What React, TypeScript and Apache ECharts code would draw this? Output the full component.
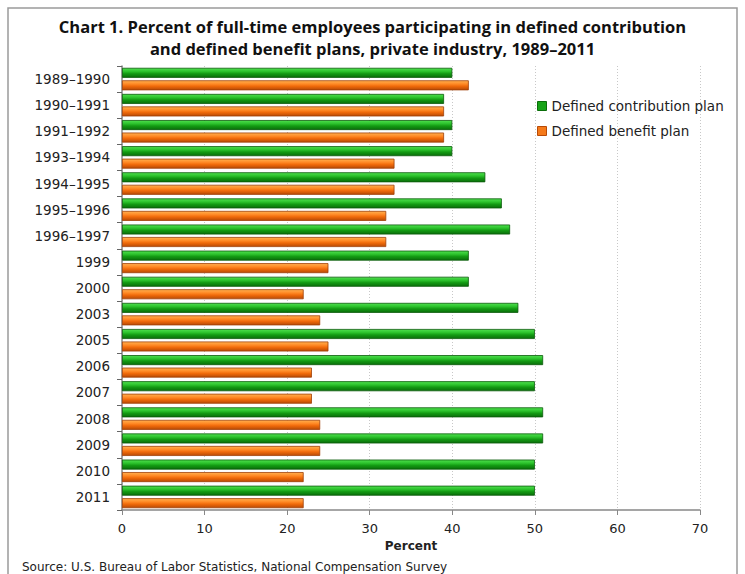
import React, { useEffect, useRef } from "react";
import * as echarts from "echarts";

const categories = [
  "1989–1990", "1990–1991", "1991–1992", "1993–1994", "1994–1995", "1995–1996",
  "1996–1997", "1999", "2000", "2003", "2005", "2006", "2007", "2008", "2009", "2010", "2011",
];
const definedContribution = [40, 39, 40, 40, 44, 46, 47, 42, 42, 48, 50, 51, 50, 51, 51, 50, 50];
const definedBenefit = [42, 39, 39, 33, 33, 32, 32, 25, 22, 24, 25, 23, 23, 24, 24, 22, 22];
const xTicks = { min: 0, max: 70, interval: 10 };

const TITLE_FONT = "'Open Sans', sans-serif";
const FONT = "'DejaVu Sans', sans-serif";

export default function App() {
  const ref = useRef<HTMLDivElement>(null);
  useEffect(() => {
    if (!ref.current) return;
    const chart = echarts.init(ref.current, undefined, { renderer: "svg" });
    const green = new echarts.graphic.LinearGradient(0, 0, 0, 1, [
      { offset: 0, color: "#4fe04f" },
      { offset: 0.35, color: "#2cc22c" },
      { offset: 0.6, color: "#139a13" },
      { offset: 1, color: "#0a6e0a" },
    ]);
    const orange = new echarts.graphic.LinearGradient(0, 0, 0, 1, [
      { offset: 0, color: "#ffb050" },
      { offset: 0.35, color: "#ff8a26" },
      { offset: 0.6, color: "#f06a0a" },
      { offset: 1, color: "#b84a06" },
    ]);
    chart.setOption({
      animation: false,
      backgroundColor: "#ffffff",
      textStyle: { fontFamily: FONT },
      title: {
        text: "Chart 1. Percent of full-time employees participating in defined contribution\nand defined benefit plans, private industry, 1989–2011",
        left: "center",
        top: 10,
        textStyle: { fontFamily: TITLE_FONT, fontSize: 16.5, fontWeight: "bold", color: "#111", lineHeight: 22 },
      },
      legend: {
        orient: "vertical",
        left: 532,
        top: 94,
        icon: "rect",
        itemWidth: 9,
        itemHeight: 9,
        itemGap: 11,
        textStyle: { fontFamily: FONT, fontSize: 13.5, color: "#222" },
        data: [
          { name: "Defined contribution plan", itemStyle: { color: "#17a317", borderColor: "#0a6e0a", borderWidth: 1 } },
          { name: "Defined benefit plan", itemStyle: { color: "#f57a1a", borderColor: "#b84a06", borderWidth: 1 } },
        ],
      },
      grid: { left: 122, right: 45, top: 66, bottom: 64 },
      xAxis: {
        type: "value",
        min: xTicks.min,
        max: xTicks.max,
        interval: xTicks.interval,
        name: "Percent",
        nameLocation: "middle",
        nameGap: 29,
        nameTextStyle: { fontFamily: FONT, fontSize: 12, fontWeight: "bold", color: "#222" },
        axisLine: { show: true, lineStyle: { color: "#888", width: 1.5 } },
        axisTick: { show: true, length: 5, lineStyle: { color: "#888" } },
        axisLabel: { fontFamily: FONT, fontSize: 13, color: "#222", margin: 12 },
        splitLine: { show: true, lineStyle: { color: "#c8c8c8", type: [1, 2] } },
      },
      yAxis: {
        type: "category",
        data: categories,
        inverse: true,
        axisLine: { show: true, lineStyle: { color: "#888", width: 1.5 } },
        axisTick: { show: true, length: 5, lineStyle: { color: "#666" } },
        axisLabel: { fontFamily: FONT, fontSize: 13.5, color: "#222", margin: 12 },
        splitLine: { show: false },
      },
      series: [
        {
          name: "Defined contribution plan",
          type: "bar",
          data: definedContribution,
          barWidth: 10,
          barGap: "25%",
          itemStyle: { color: green, borderColor: "#0a5a0a", borderWidth: 0.8 },
        },
        {
          name: "Defined benefit plan",
          type: "bar",
          data: definedBenefit,
          barWidth: 10,
          barGap: "25%",
          itemStyle: { color: orange, borderColor: "#a04008", borderWidth: 0.8 },
        },
      ],
      graphic: [
        {
          type: "rect",
          shape: { x: 8, y: 8, width: 729, height: 580 },
          style: { fill: "none", stroke: "#9a9a9a", lineWidth: 1.5 },
          silent: true,
          z: -1,
        },
        {
          type: "text",
          left: 22,
          top: 561,
          style: {
            text: "Source: U.S. Bureau of Labor Statistics, National Compensation Survey",
            fontFamily: FONT,
            fontSize: 12,
            fill: "#222",
          },
        },
      ],
    });
    return () => chart.dispose();
  }, []);
  return <div ref={ref} style={{ width: 745, height: 574, position: "absolute", left: 0, top: 0 }} />;
}
